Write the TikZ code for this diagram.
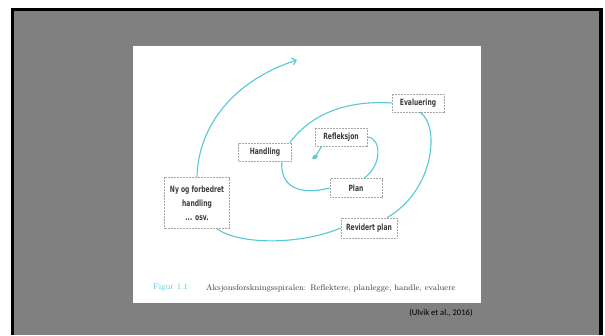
\documentclass[tikz,border=0pt]{standalone}
\usepackage{fontspec}
\newfontfamily\boxfont[FakeStretch=0.78]{DejaVu Sans Condensed}
\newfontfamily\notefont{Carlito}
\usetikzlibrary{arrows.meta}
\definecolor{spiral}{RGB}{88,200,214}
\definecolor{slidegray}{RGB}{128,128,128}
\definecolor{boxtext}{RGB}{60,60,60}

\begin{document}
\begin{tikzpicture}[x=1pt, y=-1pt,
    boks/.style={draw=gray!70, line width=0.7pt, dash pattern=on 1pt off 0.5pt,
      fill=white, inner sep=0pt, align=center, text=boxtext,
      font=\boxfont\bfseries\fontsize{8.6}{14}\selectfont},
    spir/.style={draw=spiral, line width=1.1pt}]
    \useasboundingbox (0,0) rectangle (605,335);
    \fill[white] (0,0) rectangle (605,335);
    \fill[black] (11,8) rectangle (603,335);
    \fill[slidegray] (14,11) rectangle (599,335);
    \fill[white] (133,46) rectangle (481,303);

    % Boksene
    \node[boks, minimum width=52pt, minimum height=18pt] (eval) at (418,103) {Evaluering};
    \node[boks, minimum width=52pt, minimum height=18pt] (refl) at (341,137) {Refleksjon};
    \node[boks, minimum width=53pt, minimum height=18pt] (hand) at (265,152) {Handling};
    \node[boks, minimum width=52pt, minimum height=19pt] (plan) at (356,188) {Plan};
    \node[boks, minimum width=56pt, minimum height=20pt] (revi) at (369,228) {Revidert plan};
    \node[boks, minimum width=65pt, minimum height=51pt] (nyog) at (197,203) {Ny og forbedret\\handling\\... osv.};
    \coordinate (start) at (315,157);
    \coordinate (slutt) at (297,60);

    % Spiralen
    \fill[spiral, rotate around={30:(start)}] (start) ellipse (3pt and 2pt);
    \draw[spir] (start) -- ([xshift=7pt]refl.south west);
    \draw[spir] (refl.east) .. controls (382,138) and (382,166) .. ([xshift=8pt]plan.north);
    \draw[spir] (plan.west) .. controls (298,196) and (280,186) .. ([xshift=-10pt]hand.south east);
    \draw[spir] ([xshift=-2pt]hand.north east) .. controls (310,115) and (345,100) .. (eval.west);
    \draw[spir] ([xshift=2pt]eval.south) .. controls (440,125) and (435,190) .. ([xshift=18pt]revi.north);
    \draw[spir] (revi.west) .. controls (300,245) and (240,245) .. ([xshift=20pt]nyog.south);
    \draw[spir, -{Straight Barb[length=4pt, width=7pt]}] (nyog.north) .. controls (198,125) and (235,80) .. (slutt);

    % Tekst
    \node[anchor=west, inner sep=0pt, text=spiral, font=\fontsize{8.2}{9}\selectfont] (fig) at (153,288) {Figur 1.1};
    \node[anchor=west, inner sep=0pt, text=boxtext, font=\fontsize{8.2}{9}\selectfont] (capt) at (206,288) {Aksjonsforskningsspiralen: Reflektere, planlegge, handle, evaluere};
    \node[inner sep=0pt, font=\notefont\fontsize{8.6}{10}\selectfont] (kilde) at (441,313) {(Ulvik et al., 2016)};
\end{tikzpicture}
\end{document}
